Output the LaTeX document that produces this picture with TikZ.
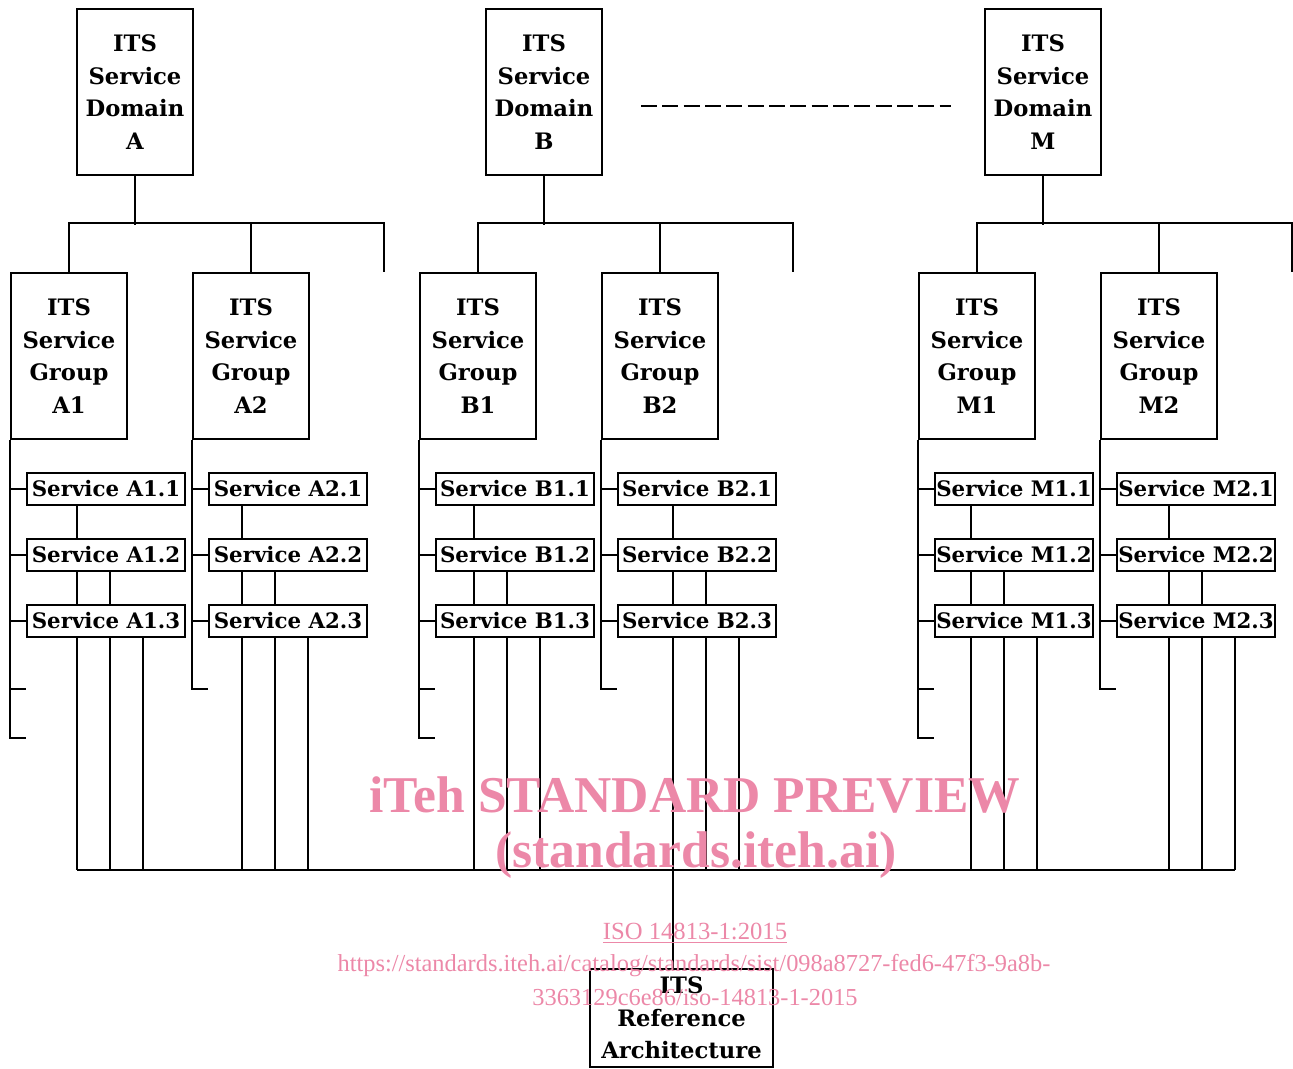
\documentclass[tikz,border=0pt]{standalone}
\usepackage{fontspec}
\setmainfont{DejaVu Serif}
\newfontfamily\wmfont{Liberation Serif}
\usepackage{tikz}
\usetikzlibrary{calc}
\definecolor{wmpink}{RGB}{236,136,168}

\begin{document}
\begin{tikzpicture}[
  x=0.75pt, y=-0.75pt,
  font=\fontsize{17}{24.4}\selectfont\bfseries,
  box/.style={draw, line width=1.5pt, inner sep=0pt, align=center},
  domainbox/.style={box, minimum width=87pt, minimum height=124.5pt},
  groupbox/.style={box, minimum width=87pt, minimum height=124.5pt},
  svcbox/.style={box, minimum width=118.5pt, minimum height=24pt,
    font=\fontsize{16}{20}\selectfont\bfseries},
  refbox/.style={box, minimum width=137pt, minimum height=73.5pt},
  link/.style={line width=0.9pt},
  spine/.style={line width=1.5pt},
  wmark/.style={font=\wmfont, text=wmpink, inner sep=0pt},
  ]
  \useasboundingbox (0,0) rectangle (1293,1068);

  % domains
  \node[domainbox] (dA) at (135,92) {ITS\\Service\\Domain\\A};
  \node[domainbox] (dB) at (544,92) {ITS\\Service\\Domain\\B};
  \node[domainbox] (dM) at (1043,92) {ITS\\Service\\Domain\\M};
  \draw[link, dash pattern=on 12pt off 4pt]
    ($(dB.east)+(38,14)$) -- ($(dM.west)+(-33,14)$);

  % groups
  \node[groupbox] (gA1) at (69,356) {ITS\\Service\\Group\\A1};
  \node[groupbox] (gA2) at (251,356) {ITS\\Service\\Group\\A2};
  \node[groupbox] (gB1) at (478,356) {ITS\\Service\\Group\\B1};
  \node[groupbox] (gB2) at (660,356) {ITS\\Service\\Group\\B2};
  \node[groupbox] (gM1) at (977,356) {ITS\\Service\\Group\\M1};
  \node[groupbox] (gM2) at (1159,356) {ITS\\Service\\Group\\M2};

  % services
  \node[svcbox] (sA11) at (106,489) {Service A1.1};
  \node[svcbox] (sA12) at (106,555) {Service A1.2};
  \node[svcbox] (sA13) at (106,621) {Service A1.3};
  \node[svcbox] (sA21) at (288,489) {Service A2.1};
  \node[svcbox] (sA22) at (288,555) {Service A2.2};
  \node[svcbox] (sA23) at (288,621) {Service A2.3};
  \node[svcbox] (sB11) at (515,489) {Service B1.1};
  \node[svcbox] (sB12) at (515,555) {Service B1.2};
  \node[svcbox] (sB13) at (515,621) {Service B1.3};
  \node[svcbox] (sB21) at (697,489) {Service B2.1};
  \node[svcbox] (sB22) at (697,555) {Service B2.2};
  \node[svcbox] (sB23) at (697,621) {Service B2.3};
  \node[svcbox] (sM11) at (1014,489) {Service M1.1};
  \node[svcbox] (sM12) at (1014,555) {Service M1.2};
  \node[svcbox] (sM13) at (1014,621) {Service M1.3};
  \node[svcbox] (sM21) at (1196,489) {Service M2.1};
  \node[svcbox] (sM22) at (1196,555) {Service M2.2};
  \node[svcbox] (sM23) at (1196,621) {Service M2.3};

  \node[refbox] (ref) at (681.5,1018) {ITS\\Reference\\Architecture};

  % domain to groups
  \foreach \d in {A,B,M} {
    \coordinate (x\d) at ($(g\d2.north)+(133,0)$);
    \draw[spine] (d\d.south) -- ++(0,49);
    \draw[link] (g\d1.north) -- ++(0,-49) -| (x\d);
    \draw[spine] (g\d2.north) -- ++(0,-49);
  }

  % group spines
  \foreach \g in {A1,A2,B1,B2,M1,M2} {
    \draw[spine] (g\g.south west) -- ++(0,249) -- ++(16,0);
    \foreach \r in {1,2,3}
      \draw[link] (s\g\r.west) -- (s\g\r.west -| g\g.west);
  }
  \foreach \g in {A1,B1,M1}
    \draw[link] ($(g\g.south west)+(0,249)$) -- ++(0,49) -- ++(16,0);

  % service chains
  \foreach \g/\o in {A1/-29, A2/-46, B1/-41, B2/-24, M1/-43, M2/-27} {
    \draw[link] ($(s\g1.south)+(\o,0)$) -- ($(s\g2.north)+(\o,0)$);
    \draw[link] ($(s\g2.south)+(\o,0)$) -- ($(s\g3.north)+(\o,0)$);
    \draw[link] ($(s\g2.south)+(\o+33,0)$) -- ($(s\g3.north)+(\o+33,0)$);
    \foreach \k in {0,33,66}
      \draw[link] ($(s\g3.south)+(\o+\k,0)$) -- ++(0,232);
  }

  % bottom bus
  \coordinate (busL) at ($(sA13.south)+(-29,232)$);
  \coordinate (busR) at ($(sM23.south)+(39,232)$);
  \draw[link] (busL) -- (busR);
  \draw[spine] ($(busL)+(33,0)$) -- ($(busR)+(-33,0)$);
  \coordinate (tap) at ($(sB23.south)+(-24,232)$);
  \draw[link] (tap) -- (tap |- ref.north);

  % watermark
  \node[wmark, font=\wmfont\fontsize{38.7}{40}\selectfont\bfseries] (wm1) at (695,795) {iTeh STANDARD PREVIEW};
  \node[wmark, font=\wmfont\fontsize{38.7}{40}\selectfont\bfseries] (wm2) at (696,855) {(standards.iteh.ai)};
  \node[wmark, font=\wmfont\fontsize{18.5}{20}\selectfont] (wm3) at (695,933) {\underline{ISO 14813-1:2015}};
  \node[wmark, font=\wmfont\fontsize{18.3}{20}\selectfont] (wm4) at (694,966) {https://standards.iteh.ai/catalog/standards/sist/098a8727-fed6-47f3-9a8b-};
  \node[wmark, font=\wmfont\fontsize{18.3}{20}\selectfont] (wm5) at (695,997) {3363129c6e86/iso-14813-1-2015};
\end{tikzpicture}
\end{document}
